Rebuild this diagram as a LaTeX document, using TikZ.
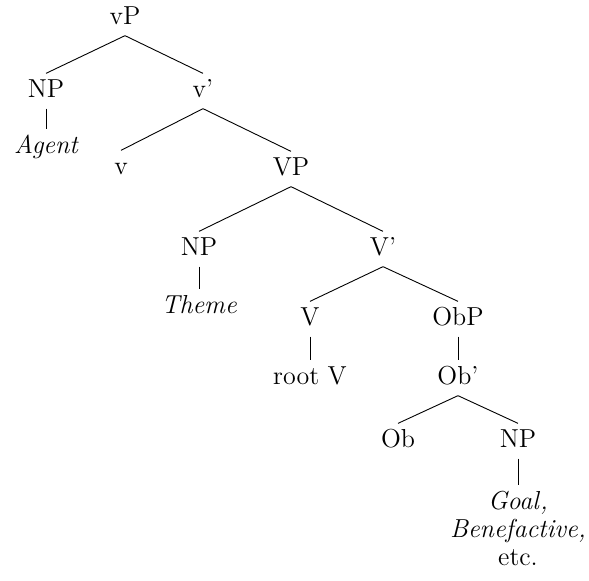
\documentclass[tikz,border=0pt]{standalone}
\begin{document}
\begin{tikzpicture}[x=0.5pt,y=-0.5pt,
  lab/.style={inner sep=0pt, text height=11.75pt, text depth=5.5pt, font=\fontsize{13}{14}\selectfont},
  ml/.style={inner xsep=0pt, inner ysep=3pt, anchor=north, align=center, font=\fontsize{13}{14}\selectfont},
  br/.style={line width=0.45pt}]
\useasboundingbox (0,0) rectangle (589,580);
\node[lab] (vP) at (125,18) {vP};
\node[lab] (NPa) at (46,91) {NP};
\node[lab] (ag) at (46,147) {\itshape Agent};
\node[lab] (vb) at (203,91) {v'};
\node[lab] (v) at (121,168) {v};
\node[lab] (VP) at (291,169) {VP};
\node[lab] (NPb) at (199,249) {NP};
\node[lab] (th) at (199,307) {\itshape Theme};
\node[lab] (Vb) at (383,249) {V'};
\node[lab] (V) at (310,319) {V};
\node[lab] (rV) at (310,378) {root V};
\node[lab] (ObP) at (458,319) {ObP};
\node[lab] (Obb) at (458,378) {Ob'};
\node[lab] (Ob) at (398,441) {Ob};
\node[lab] (NPc) at (518,441) {NP};
\node[ml] (goal) at (518,485) {\itshape Goal\/,\\ \itshape Benefactive\/,\\ etc.};
\draw[br] (vP.south) -- (NPa.north);
\draw[br] (vP.south) -- (vb.north);
\draw[br] (NPa.south) -- (ag.north);
\draw[br] (vb.south) -- (v.north);
\draw[br] (vb.south) -- (VP.north);
\draw[br] (VP.south) -- (NPb.north);
\draw[br] (VP.south) -- (Vb.north);
\draw[br] (NPb.south) -- (th.north);
\draw[br] (Vb.south) -- (V.north);
\draw[br] (Vb.south) -- (ObP.north);
\draw[br] (V.south) -- (rV.north);
\draw[br] (ObP.south) -- (Obb.north);
\draw[br] (Obb.south) -- (Ob.north);
\draw[br] (Obb.south) -- (NPc.north);
\draw[br] (NPc.south) -- (goal.north);
\end{tikzpicture}
\end{document}
